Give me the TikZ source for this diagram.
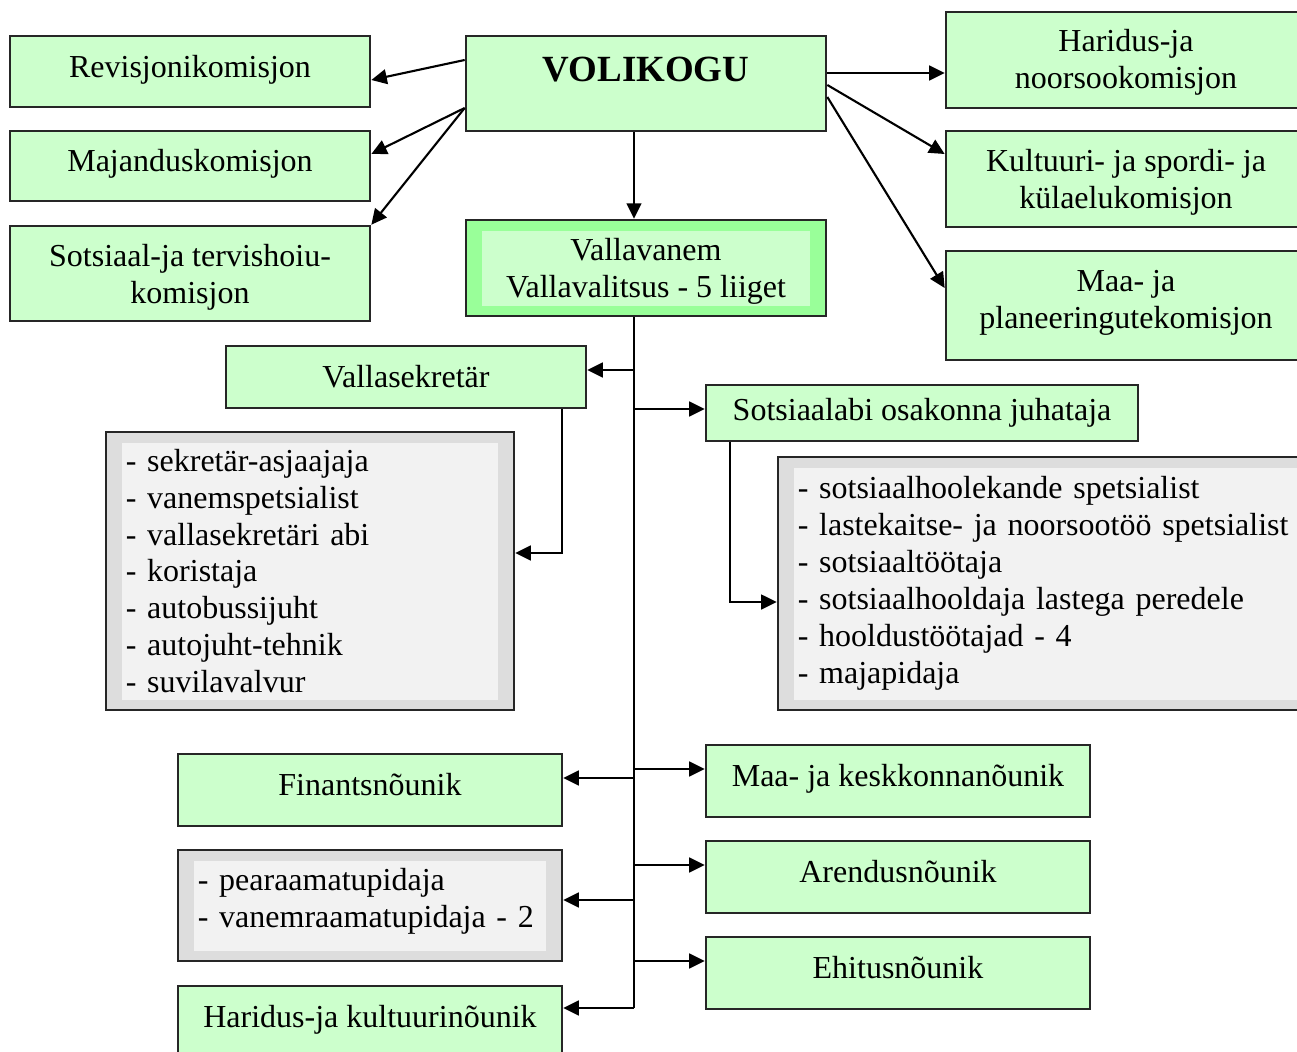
\documentclass[tikz,border=0pt]{standalone}
\usepackage{fontspec}
\setmainfont{Liberation Serif}
\usepackage{xcolor}
\usetikzlibrary{arrows.meta}

\definecolor{boxgreen}{HTML}{CCFFCC}
\definecolor{headgreen}{HTML}{99FF99}
\definecolor{listgray}{HTML}{DDDDDD}
\definecolor{listlight}{HTML}{F2F2F2}

\begin{document}
\begin{tikzpicture}[x=0.01cm, y=-0.01cm, font=\fontsize{9.1}{10.5}\selectfont]
      \tikzset{inset/.style={path picture={\fill[#1]
        ([xshift=0.16cm,yshift=-0.11cm]path picture bounding box.north west) rectangle
        ([xshift=-0.16cm,yshift=0.10cm]path picture bounding box.south east);}}}
      \tikzstyle{box}=[draw=black!85, line width=0.7pt, fill=boxgreen, inner sep=2pt,
        align=center, minimum width=3.6cm];
      \tikzstyle{oneline}=[text height=6.4pt, text depth=3pt];
      \tikzstyle{list}=[draw=black!85, line width=0.7pt, fill=listgray, inset=listlight,
        inner xsep=0.2cm, inner ysep=2pt, align=left];
      \tikzstyle{arr}=[-{Triangle[length=4.4pt,width=4.2pt]}, line width=0.6pt];
      \useasboundingbox (0,0) rectangle (1297,1052);
      \clip (0,0) rectangle (1297,1052);
      % volikogu and its commissions
      \node[box, minimum height=0.95cm, text height=7pt, text depth=7.9pt,
        font=\fontsize{10.5}{12}\selectfont\bfseries] (vol) at (646,83.5) {VOLIKOGU};
      \node[box, oneline, minimum height=0.71cm] (revk) at (190,71.5) {Revisjonikomisjon};
      \node[box, oneline, minimum height=0.70cm] (majk) at (190,166) {Majanduskomisjon};
      \node[box, text height=19pt, minimum height=0.95cm] (sotsk) at (190,273.5)
        {Sotsiaal-ja tervishoiu-\\komisjon};
      \node[box, text height=17.9pt, minimum height=0.96cm] (harik) at (1126,60)
        {Haridus-ja\\noorsookomisjon};
      \node[box, text height=18.8pt, minimum height=0.96cm] (kultk) at (1126,179)
        {Kultuuri- ja spordi- ja\\külaelukomisjon};
      \node[box, text height=15.1pt, minimum height=1.09cm] (maak) at (1126,305.5)
        {Maa- ja\\planeeringutekomisjon};
      \draw[arr] (vol.west |- 0,60) -- (revk.east |- 0,80);
      \draw[arr] (vol.west |- 0,108) -- (majk.east |- 0,154);
      \draw[arr] (vol.west |- 0,108) -- (sotsk.north east);
      \draw[arr] (vol.east |- 0,73) -- (harik.west |- 0,73);
      \draw[arr] (vol.east |- 0,85) -- (kultk.west |- 0,154);
      \draw[arr] (vol.east |- 0,97) -- (maak.west |- 0,288);
      % vallavalitsus
      \node[box, fill=headgreen, inset=boxgreen, text height=18.5pt, minimum height=0.96cm]
        (vvan) at (646,268) {Vallavanem\\Vallavalitsus - 5 liiget};
      \draw[arr] (vol.south -| 634,0) -- (vvan.north -| 634,0);
      \node[box, minimum height=0.62cm] (vsekr) at (406,377) {Vallasekretär};
      \node[list, text width=3.68cm, minimum height=2.78cm] (vsekrlist) at (310,571)
        {- sekretär-asjaajaja\\- vanemspetsialist\\- vallasekretäri abi\\- koristaja\\%
         - autobussijuht\\- autojuht-tehnik\\- suvilavalvur};
      \node[box, minimum width=4.32cm, minimum height=0.56cm] (sotsj) at (922,413)
        {Sotsiaalabi osakonna juhataja};
      \node[list, text width=5.1cm, minimum height=2.53cm] (sotslist) at (1053,583.5)
        {- sotsiaalhoolekande spetsialist\\- lastekaitse- ja noorsootöö spetsialist\\%
         - sotsiaaltöötaja\\- sotsiaalhooldaja lastega peredele\\- hooldustöötajad - 4\\%
         - majapidaja};
      \node[box, oneline, minimum width=3.84cm, minimum height=0.72cm] (fin) at (370,790) {Finantsnõunik};
      \node[list, text width=3.44cm, text height=4pt, minimum height=1.11cm] (finlist) at (370,905.5)
        {- pearaamatupidaja\\- vanemraamatupidaja - 2};
      \node[box, oneline, minimum width=3.84cm, minimum height=0.72cm] (harn) at (370,1022)
        {Haridus-ja kultuurinõunik};
      \node[box, oneline, minimum width=3.84cm, minimum height=0.72cm] (maan) at (898,781)
        {Maa- ja keskkonnanõunik};
      \node[box, oneline, minimum width=3.84cm, minimum height=0.72cm] (aren) at (898,877) {Arendusnõunik};
      \node[box, oneline, minimum width=3.84cm, minimum height=0.72cm] (ehit) at (898,973) {Ehitusnõunik};
      % trunk and branches
      \coordinate (trend) at (634,1008);
      \draw[line width=0.6pt] (vvan.south -| trend) -- (trend);
      \draw[arr] (trend |- 0,370) -- (vsekr.east |- 0,370);
      \draw[arr] (trend |- 0,409) -- (sotsj.west |- 0,409);
      \draw[arr] (vsekr.south -| 562,0) |- (vsekrlist.east |- 0,553);
      \draw[arr] (sotsj.south -| 730,0) |- (sotslist.west |- 0,602);
      \draw[arr] (trend |- 0,769) -- (maan.west |- 0,769);
      \draw[arr] (trend |- 0,778) -- (fin.east |- 0,778);
      \draw[arr] (trend |- 0,865) -- (aren.west |- 0,865);
      \draw[arr] (trend |- 0,900) -- (finlist.east |- 0,900);
      \draw[arr] (trend |- 0,961) -- (ehit.west |- 0,961);
      \draw[arr] (trend) -- (harn.east |- trend);
\end{tikzpicture}
\end{document}
